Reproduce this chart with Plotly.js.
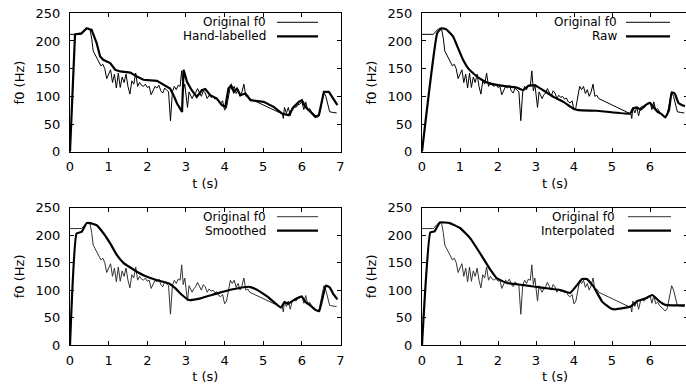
<!DOCTYPE html>
<html>
<head>
<meta charset="utf-8">
<script src="https://cdn.plot.ly/plotly-3.0.1.min.js"></script>
<style>
html,body{margin:0;padding:0;overflow:hidden;background:#fff;}
#chart{width:690px;height:390px;}
</style>
</head>
<body>
<div id="chart"></div>
<script>
// ---- data ----
const T_ORIG = [0,0.30,0.40,0.47,0.52,0.56,0.60,0.65,0.70,0.75,
  0.80,0.85,0.90,0.95,1.00,1.05,1.10,1.15,1.20,1.25,
  1.30,1.35,1.40,1.45,1.50,1.55,1.60,1.65,1.70,1.75,
  1.80,1.85,1.90,1.95,2.00,2.05,2.10,2.15,2.20,2.25,
  2.30,2.35,2.40,2.45,2.50,2.55,2.60,2.65,2.70,2.75,
  2.80,2.85,2.89,2.93,2.97,3.04,3.08,3.12,3.16,3.20,
  3.25,3.30,3.35,3.40,3.45,3.50,3.55,3.60,3.65,3.70,
  3.75,3.80,3.85,3.90,3.95,4.00,4.05,4.10,4.15,4.20,
  4.25,4.30,4.35,4.40,4.45,4.50,4.55,4.60,4.65,5.50,
  5.52,5.55,5.60,5.65,5.70,5.75,5.80,5.85,5.90,5.95,
  6.00,6.05,6.10,6.15,6.20,6.25,6.30,6.35,6.40,6.45,
  6.50,6.57,6.62,6.67,6.72,6.80,6.90];
const F0_ORIG = [212,212,220,223,220,205,182,175,170,160,
  155,158,150,132,140,148,125,140,115,142,
  116,135,125,140,118,104,128,122,142,118,
  125,120,118,122,116,118,103,112,118,115,
  120,110,106,115,112,108,56,108,118,112,
  120,118,146,110,122,80,108,100,96,102,
  106,114,108,100,110,106,96,102,98,100,
  95,97,90,88,92,75,80,100,118,112,
  118,105,112,100,108,122,100,102,96,68,
  60,80,70,80,65,80,82,80,85,86,
  90,76,90,75,78,72,68,64,62,66,
  85,108,100,88,72,71,70];

const T_HAND = [0,0.13,0.30,0.43,0.56,0.69,0.78,0.86,1.04,1.17,1.30,1.56,1.73,1.90,2.25,2.46,2.59,2.68,2.77,2.90,2.94,3.03,3.15,3.28,3.41,3.50,3.63,3.80,3.93,4.02,4.10,4.17,4.24,4.32,4.41,4.54,4.67,5.01,5.27,5.49,5.66,5.79,5.92,6.00,6.09,6.22,6.35,6.44,6.53,6.57,6.70,6.83,6.92];
const F0_HAND = [0,212,214,223,220,196,172,166,160,148,145,143,136,130,128,120,114,102,87,72,148,126,111,99,111,113,102,96,84,81,114,120,108,114,102,105,93,90,81,69,66,81,90,93,81,72,63,66,93,108,108,93,84];

const T_RAW = [0,0.40,0.51,0.64,0.82,0.95,1.08,1.21,1.39,1.57,1.79,2.14,2.49,2.66,2.80,2.97,3.19,3.46,3.72,3.98,4.12,4.60,5.48,5.55,5.65,5.75,5.90,6.00,6.10,6.20,6.30,6.40,6.50,6.57,6.65,6.75,6.85,6.92];
const F0_RAW = [0,214,223,221,208,187,166,151,139,130,123,119,116,111,119,120,111,99,90,78,75,74,69,78,80,76,85,88,80,72,68,62,75,107,105,88,84,82];

const T_SMOOTH = [0,0.17,0.30,0.43,0.52,0.69,0.87,1.04,1.21,1.39,1.65,1.90,2.25,2.56,2.73,2.90,3.08,3.38,3.81,4.25,4.64,4.77,5.11,5.46,5.55,5.65,5.75,5.90,6.00,6.10,6.20,6.35,6.45,6.55,6.62,6.72,6.82,6.92];
const F0_SMOOTH = [0,203,206,222,222,218,203,185,164,149,137,127,118,112,103,91,82,85,94,102,106,103,88,68,78,75,80,86,88,78,73,64,62,90,108,105,92,83];

const T_INTERP = [0,0.22,0.33,0.47,0.73,1.00,1.26,1.52,1.79,1.96,2.23,2.67,3.20,3.64,3.90,4.08,4.21,4.34,4.52,4.74,4.96,5.09,5.49,5.67,5.89,6.06,6.24,6.41,6.72,6.92];
const F0_INTERP = [0,205,207,223,222,213,195,168,138,122,113,109,104,100,95,109,120,120,106,79,67,65,70,80,85,91,80,73,72,72];

const X_TICKS = [0,1,2,3,4,5,6,7];
const Y_TICKS = [0,50,100,150,200,250];
const ORIG_NAME = 'Original f0';
const PANEL_NAMES = ['Hand-labelled','Raw','Smoothed','Interpolated'];
const X_TITLE = 't (s)';
const Y_TITLE = 'f0 (Hz)';

// ---- layout geometry ----
const W = 690, H = 390;
const FONT = {family: 'DejaVu Sans, Arial, sans-serif', size: 13, color: '#000'};
const KEY_FONT = {family: 'DejaVu Sans, Arial, sans-serif', size: 12, color: '#000'};
const panels = [
  {t: T_HAND,   f: F0_HAND,   shape: 'linear', x0: 70,  x1: 340.5, y0: 13.3,  y1: 151.7, legX: 267, lineX0: 277, lineX1: 318, origColor: '#000'},
  {t: T_RAW,    f: F0_RAW,    shape: 'spline', x0: 422, x1: 688,   y0: 13.3,  y1: 151.7, legX: 618, lineX0: 626, lineX1: 670, origColor: '#000'},
  {t: T_SMOOTH, f: F0_SMOOTH, shape: 'spline', x0: 70,  x1: 340.5, y0: 207.7, y1: 345,   legX: 267, lineX0: 277, lineX1: 318, origColor: '#333'},
  {t: T_INTERP, f: F0_INTERP, shape: 'spline', x0: 422, x1: 688,   y0: 207.7, y1: 345,   legX: 616, lineX0: 628, lineX1: 671, origColor: '#333'}
];

const data = [];
const layout = {
  width: W, height: H,
  margin: {l: 0, r: 0, t: 0, b: 0},
  paper_bgcolor: '#fff', plot_bgcolor: '#fff',
  showlegend: false,
  font: FONT,
  annotations: [], shapes: []
};

panels.forEach((p, i) => {
  const n = i + 1;
  const xa = n === 1 ? 'x' : 'x' + n;
  const ya = n === 1 ? 'y' : 'y' + n;
  data.push({x: T_ORIG, y: F0_ORIG, xaxis: xa, yaxis: ya, type: 'scatter', mode: 'lines',
    name: ORIG_NAME, line: {color: p.origColor, width: 1}});
  data.push({x: p.t, y: p.f, xaxis: xa, yaxis: ya, type: 'scatter', mode: 'lines',
    name: PANEL_NAMES[i], line: {color: '#000', width: 2.2, shape: p.shape, smoothing: 0.35}});

  const common = {
    ticks: 'inside', ticklen: 4, tickwidth: 1, tickcolor: '#000',
    mirror: 'allticks', showline: true, linecolor: '#000', linewidth: 1,
    showgrid: false, zeroline: false, automargin: false,
    tickfont: FONT
  };
  layout['xaxis' + (n === 1 ? '' : n)] = Object.assign({}, common, {
    domain: [p.x0 / W, p.x1 / W], anchor: ya, range: [0, 7], tickvals: X_TICKS,
    ticklabelstandoff: 3,
    title: {text: X_TITLE, font: FONT, standoff: 5}
  });
  layout['yaxis' + (n === 1 ? '' : n)] = Object.assign({}, common, {
    domain: [1 - p.y1 / H, 1 - p.y0 / H], anchor: xa, range: [0, 250], tickvals: Y_TICKS,
    ticklabelstandoff: 6,
    title: {text: Y_TITLE, font: FONT, standoff: 8}
  });

  // gnuplot-style key: right-aligned text with line sample to its right
  const rowY = [p.y0 + 9, p.y0 + 23];
  const labels = [ORIG_NAME, PANEL_NAMES[i]];
  const colors = [p.origColor, '#000'];
  const widths = [1, 2.2];
  labels.forEach((lab, k) => {
    layout.annotations.push({xref: 'paper', yref: 'paper', x: p.legX / W, y: 1 - rowY[k] / H,
      xanchor: 'right', yanchor: 'middle', text: lab, showarrow: false, font: KEY_FONT, borderpad: 0});
    layout.shapes.push({type: 'line', xref: 'paper', yref: 'paper',
      x0: p.lineX0 / W, x1: p.lineX1 / W, y0: 1 - rowY[k] / H, y1: 1 - rowY[k] / H,
      line: {color: colors[k], width: widths[k]}});
  });
});

Plotly.newPlot('chart', data, layout, {staticPlot: true, displayModeBar: false});
</script>
</body>
</html>
